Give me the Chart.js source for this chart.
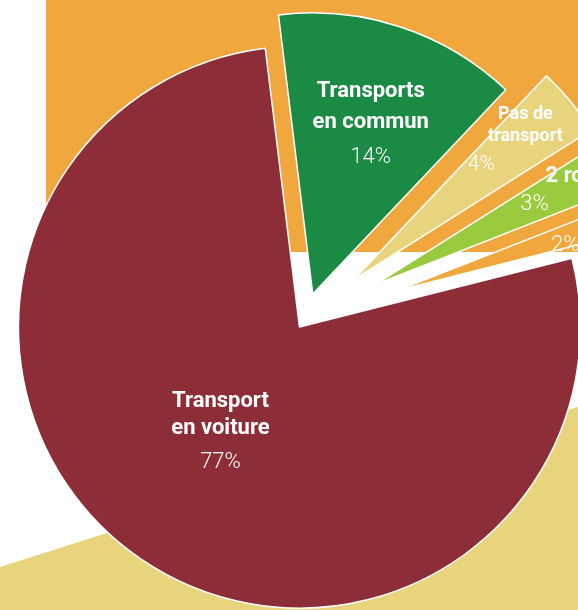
<!DOCTYPE html>
<html lang="fr">
<head>
<meta charset="utf-8">
<title>Modes de transport</title>
<script src="https://cdn.jsdelivr.net/npm/chart.js@4.4.1/dist/chart.umd.min.js"></script>
<style>
  html, body { margin: 0; padding: 0; background: #fff; overflow: hidden; }
  #stage { position: relative; width: 578px; height: 610px; overflow: hidden; }
  .bg { position: absolute; }
  #bgOrange { left: 46px; top: 0; width: 532px; height: 252px; background: #f0a73e; }
  #bgYellow { left: 0; top: 0; width: 578px; height: 610px; background: #e8d47d;
    clip-path: polygon(0 567px, 110px 532px, 578px 407px, 578px 610px, 0 610px); }
  #wrap { position: absolute; left: 0; top: 0; width: 578px; height: 610px; }
</style>
</head>
<body>
<div id="stage">
  <div class="bg" id="bgOrange"></div>
  <div class="bg" id="bgYellow"></div>
  <div id="wrap"><canvas id="pieChart"></canvas></div>
</div>
<script>
// données (sens horaire, en partant des transports en commun)
const categories = ['Transports en commun', 'Pas de transport', '2 roues', 'Autres', 'Transport en voiture'];
const shares = [14, 4, 3, 2, 77];
const nameLines = [['Transports', 'en commun'], ['Pas de', 'transport'], ['2 roues'], [], ['Transport', 'en voiture']];
const sliceColors = ['#1b8a45', '#e8d47d', '#9aca3d', '#f0a73e', '#8d2d38'];

// décalage de chaque part (px, le long de son angle médian)
const explode = [28, 64, 80, 98, 8];

// position des étiquettes par rapport au sommet de chaque part
const labelStyle = [
  { nx: 58, ny: -197, nameFont: 'bold 22px Roboto', gap: 31, px: 58, py: -131, pctFont: '300 22px Roboto' },
  { nx: 172, ny: -161, nameFont: 'bold 18px Roboto', gap: 22, px: 128, py: -110, pctFont: '300 21px Roboto' },
  { nx: 207, ny: -102, nameFont: 'bold 22px Roboto', gap: 0, px: 159, py: -74, pctFont: '300 22px Roboto' },
  { nx: 0, ny: 0, nameFont: 'bold 22px Roboto', gap: 0, px: 168, py: -40, pctFont: '300 22px Roboto' },
  { nx: -79, ny: 80, nameFont: 'bold 22px Roboto', gap: 27, px: -79, py: 141, pctFont: '300 22px Roboto' }
];

function shiftOf(arc, i) {
  const mid = (arc.startAngle + arc.endAngle) / 2;
  return { dx: Math.cos(mid) * explode[i], dy: Math.sin(mid) * explode[i] };
}

// dessine les parts éclatées
const explodePlugin = {
  id: 'explode',
  beforeDatasetDraw(chart, args) {
    const ctx = chart.ctx;
    args.meta.data.forEach((arc, i) => {
      const s = shiftOf(arc, i);
      ctx.save();
      ctx.translate(s.dx, s.dy);
      arc.draw(ctx, chart.chartArea);
      ctx.restore();
    });
    return false;
  }
};

// étiquettes blanches dans les parts
const labelPlugin = {
  id: 'sliceLabels',
  afterDatasetsDraw(chart) {
    const ctx = chart.ctx;
    const meta = chart.getDatasetMeta(0);
    ctx.save();
    ctx.fillStyle = '#ffffff';
    ctx.textAlign = 'center';
    ctx.textBaseline = 'alphabetic';
    meta.data.forEach((arc, i) => {
      const s = shiftOf(arc, i);
      const ox = arc.x + s.dx;
      const oy = arc.y + s.dy;
      const st = labelStyle[i];
      ctx.font = st.nameFont;
      nameLines[i].forEach((line, k) => {
        ctx.fillText(line, ox + st.nx, oy + st.ny + k * st.gap);
      });
      ctx.font = st.pctFont;
      ctx.fillText(shares[i] + '%', ox + st.px, oy + st.py);
    });
    ctx.restore();
  }
};

const ctx = document.getElementById('pieChart').getContext('2d');

const pieChart = new Chart(ctx, {
  type: 'pie',
  data: {
    labels: categories,
    datasets: [{
      data: shares,
      backgroundColor: sliceColors,
      borderColor: '#ffffff',
      borderWidth: 1.5,
      radius: 281
    }]
  },
  options: {
    responsive: true,
    maintainAspectRatio: false,
    animation: false,
    rotation: -7,
    layout: { padding: { left: 30, top: 31, right: 0, bottom: 0 } },
    plugins: {
      legend: { display: false },
      tooltip: { enabled: false }
    },
    events: []
  },
  plugins: [explodePlugin, labelPlugin]
});
</script>
</body>
</html>
